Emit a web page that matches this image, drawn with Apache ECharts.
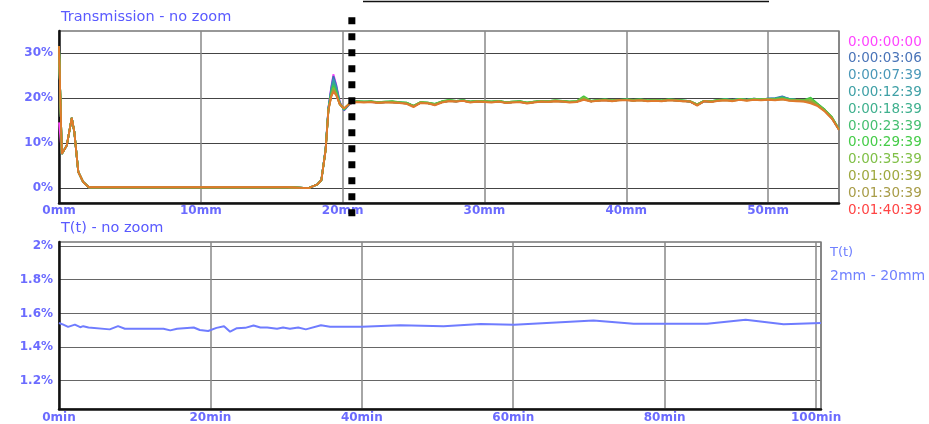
<!DOCTYPE html>
<html>
<head>
<meta charset="utf-8">
<script src="https://cdn.jsdelivr.net/npm/echarts@6/dist/echarts.min.js"></script>
<style>
  html, body { margin: 0; padding: 0; background: #ffffff; }
  #chart { width: 929px; height: 424px; }
</style>
</head>
<body>
<div id="chart"></div>
<script>
// Transmission profiles along the sample (mm) for each acquisition time
const positionsMm = [
  0, 0.2, 0.55, 0.9, 1.08, 1.36, 1.7, 2.1, 16.1, 17.6,
  18.2, 18.5, 18.8, 19.0, 19.2, 19.35, 19.55, 19.8, 20.1, 20.5,
  21, 21.5, 22, 22.5, 23, 23.5, 24, 24.5, 25, 25.5,
  26, 26.5, 27, 27.5, 28, 28.5, 29, 29.5, 30, 30.5,
  31, 31.5, 32, 32.5, 33, 33.5, 34, 34.5, 35, 35.5,
  36, 36.5, 37, 37.5, 38, 38.5, 39, 39.5, 40, 40.5,
  41, 41.5, 42, 42.5, 43, 43.5, 44, 44.5, 45, 45.5,
  46, 46.5, 47, 47.5, 48, 48.5, 49, 49.5, 50, 50.5,
  51, 51.5, 52, 52.5, 53, 53.5, 54, 54.5, 55
];

const run_0_00_00_00 = [
  14.6, 7.6, 9.5, 15.6, 12.5, 3.6, 1.4, 0.2, 0.2, 0.0,
  0.8, 1.8, 8.8, 18.0, 22.6, 25.3, 23.0, 19.2, 17.2, 18.7,
  19.2, 19.1, 19.1, 19.0, 19.1, 19.1, 19.0, 18.8, 18.2, 19.0,
  18.9, 18.5, 19.1, 19.4, 19.3, 19.4, 19.1, 19.3, 19.2, 19.1,
  19.3, 19.0, 19.1, 19.1, 18.9, 19.1, 19.3, 19.2, 19.4, 19.2,
  19.1, 19.2, 19.7, 19.3, 19.5, 19.5, 19.4, 19.6, 19.6, 19.5,
  19.6, 19.4, 19.5, 19.4, 19.6, 19.5, 19.4, 19.2, 18.5, 19.3,
  19.2, 19.5, 19.6, 19.5, 19.7, 19.6, 19.8, 19.7, 19.8, 19.9,
  20.2, 19.7, 19.6, 19.5, 19.7, 18.5, 17.2, 15.5, 13.0
];
const run_0_00_03_06 = [
  31.5, 7.6, 9.5, 15.6, 12.5, 3.6, 1.4, 0.2, 0.2, 0.0,
  0.8, 1.8, 8.7, 17.9, 22.3, 24.9, 22.8, 19.0, 17.3, 18.7,
  19.2, 19.1, 19.2, 19.0, 19.1, 19.1, 19.0, 18.9, 18.2, 19.0,
  18.9, 18.6, 19.1, 19.4, 19.3, 19.5, 19.1, 19.3, 19.2, 19.1,
  19.3, 19.0, 19.1, 19.2, 18.9, 19.1, 19.3, 19.2, 19.4, 19.3,
  19.1, 19.2, 19.8, 19.3, 19.5, 19.6, 19.4, 19.6, 19.6, 19.5,
  19.6, 19.4, 19.5, 19.4, 19.6, 19.5, 19.4, 19.2, 18.5, 19.3,
  19.2, 19.5, 19.7, 19.6, 19.8, 19.6, 19.9, 19.7, 19.9, 20.0,
  20.4, 19.8, 19.6, 19.5, 19.8, 18.6, 17.3, 15.6, 13.0
];
const run_0_00_07_39 = [
  31.5, 7.6, 9.5, 15.6, 12.5, 3.6, 1.4, 0.2, 0.2, 0.0,
  0.8, 1.8, 8.7, 17.8, 21.9, 24.3, 22.4, 18.9, 17.4, 18.8,
  19.2, 19.1, 19.2, 19.0, 19.1, 19.1, 19.0, 18.9, 18.2, 19.0,
  18.9, 18.6, 19.1, 19.4, 19.3, 19.5, 19.1, 19.3, 19.2, 19.1,
  19.3, 19.0, 19.1, 19.2, 18.9, 19.1, 19.3, 19.2, 19.4, 19.3,
  19.1, 19.2, 19.8, 19.3, 19.5, 19.6, 19.4, 19.6, 19.6, 19.5,
  19.6, 19.4, 19.5, 19.4, 19.6, 19.5, 19.4, 19.2, 18.5, 19.3,
  19.2, 19.5, 19.7, 19.6, 19.8, 19.6, 19.9, 19.7, 19.9, 19.9,
  20.2, 19.8, 19.6, 19.5, 19.8, 18.6, 17.3, 15.6, 13.0
];
const run_0_00_12_39 = [
  31.5, 7.6, 9.5, 15.6, 12.5, 3.6, 1.4, 0.2, 0.2, 0.0,
  0.8, 1.8, 8.6, 17.7, 21.6, 23.8, 22.0, 18.8, 17.4, 18.8,
  19.2, 19.1, 19.2, 19.0, 19.1, 19.1, 19.0, 18.9, 18.2, 19.0,
  18.9, 18.6, 19.1, 19.4, 19.3, 19.5, 19.1, 19.3, 19.2, 19.1,
  19.3, 19.0, 19.1, 19.2, 18.9, 19.1, 19.3, 19.2, 19.4, 19.3,
  19.1, 19.2, 19.8, 19.3, 19.5, 19.6, 19.4, 19.6, 19.6, 19.5,
  19.6, 19.4, 19.5, 19.4, 19.6, 19.5, 19.4, 19.2, 18.5, 19.3,
  19.2, 19.5, 19.7, 19.5, 19.8, 19.6, 19.8, 19.7, 19.9, 19.9,
  20.2, 19.8, 19.6, 19.5, 19.8, 18.6, 17.3, 15.6, 13.0
];
const run_0_00_18_39 = [
  31.5, 7.6, 9.5, 15.6, 12.5, 3.6, 1.4, 0.2, 0.2, 0.0,
  0.8, 1.8, 8.6, 17.6, 21.3, 23.3, 21.7, 18.8, 17.5, 18.8,
  19.2, 19.2, 19.2, 19.0, 19.1, 19.2, 19.0, 18.9, 18.2, 19.0,
  18.9, 18.6, 19.2, 19.5, 19.3, 19.5, 19.2, 19.3, 19.2, 19.2,
  19.3, 19.0, 19.1, 19.2, 18.9, 19.1, 19.3, 19.2, 19.4, 19.3,
  19.1, 19.2, 19.9, 19.3, 19.5, 19.6, 19.4, 19.6, 19.6, 19.5,
  19.6, 19.4, 19.5, 19.4, 19.6, 19.5, 19.4, 19.3, 18.5, 19.4,
  19.3, 19.5, 19.7, 19.5, 19.7, 19.6, 19.8, 19.7, 19.8, 19.8,
  20.1, 19.7, 19.6, 19.5, 19.8, 18.6, 17.3, 15.6, 13.0
];
const run_0_00_23_39 = [
  31.5, 7.6, 9.5, 15.6, 12.5, 3.6, 1.4, 0.2, 0.2, 0.0,
  0.8, 1.8, 8.5, 17.6, 21.1, 22.9, 21.4, 18.7, 17.5, 18.9,
  19.3, 19.2, 19.2, 19.1, 19.2, 19.2, 19.1, 19.0, 18.3, 19.1,
  19.0, 18.7, 19.2, 19.5, 19.4, 19.5, 19.2, 19.4, 19.3, 19.2,
  19.4, 19.1, 19.2, 19.3, 19.0, 19.2, 19.4, 19.3, 19.5, 19.4,
  19.2, 19.3, 20.2, 19.4, 19.5, 19.7, 19.5, 19.6, 19.7, 19.6,
  19.7, 19.5, 19.6, 19.5, 19.7, 19.6, 19.5, 19.3, 18.6, 19.4,
  19.3, 19.6, 19.7, 19.5, 19.8, 19.6, 19.8, 19.7, 19.8, 19.8,
  20.0, 19.7, 19.6, 19.5, 19.9, 18.7, 17.4, 15.7, 13.1
];
const run_0_00_29_39 = [
  31.5, 7.6, 9.5, 15.6, 12.5, 3.6, 1.4, 0.2, 0.2, 0.0,
  0.8, 1.8, 8.5, 17.5, 20.9, 22.6, 21.2, 18.7, 17.6, 18.9,
  19.3, 19.2, 19.3, 19.1, 19.2, 19.3, 19.1, 19.0, 18.3, 19.1,
  19.0, 18.7, 19.3, 19.6, 19.4, 19.5, 19.2, 19.4, 19.3, 19.2,
  19.4, 19.1, 19.2, 19.3, 19.0, 19.2, 19.4, 19.3, 19.5, 19.4,
  19.2, 19.3, 20.4, 19.4, 19.6, 19.7, 19.5, 19.6, 19.7, 19.6,
  19.7, 19.5, 19.6, 19.5, 19.7, 19.6, 19.5, 19.3, 18.6, 19.4,
  19.3, 19.6, 19.7, 19.5, 19.8, 19.6, 19.8, 19.7, 19.8, 19.8,
  20.0, 19.7, 19.6, 19.5, 20.1, 18.7, 17.4, 15.8, 13.1
];
const run_0_00_35_39 = [
  31.5, 7.6, 9.5, 15.6, 12.5, 3.6, 1.4, 0.2, 0.2, 0.0,
  0.8, 1.8, 8.5, 17.5, 20.7, 22.3, 21.0, 18.6, 17.6, 18.9,
  19.2, 19.2, 19.2, 19.1, 19.1, 19.2, 19.0, 18.9, 18.3, 19.1,
  19.0, 18.6, 19.2, 19.5, 19.4, 19.5, 19.2, 19.3, 19.3, 19.2,
  19.3, 19.1, 19.2, 19.2, 19.0, 19.2, 19.3, 19.3, 19.5, 19.3,
  19.2, 19.3, 20.1, 19.4, 19.5, 19.6, 19.5, 19.6, 19.6, 19.5,
  19.6, 19.5, 19.5, 19.5, 19.6, 19.6, 19.4, 19.3, 18.6, 19.4,
  19.3, 19.5, 19.6, 19.5, 19.7, 19.6, 19.7, 19.7, 19.8, 19.7,
  19.9, 19.6, 19.6, 19.5, 19.7, 18.5, 17.3, 15.7, 13.1
];
const run_0_01_00_39 = [
  31.5, 7.6, 9.5, 15.6, 12.5, 3.6, 1.4, 0.2, 0.2, 0.0,
  0.8, 1.8, 8.4, 17.4, 20.6, 22.0, 20.9, 18.6, 17.7, 18.8,
  19.2, 19.1, 19.2, 19.0, 19.1, 19.1, 19.0, 18.8, 18.2, 19.0,
  18.9, 18.6, 19.1, 19.4, 19.3, 19.4, 19.1, 19.3, 19.2, 19.1,
  19.3, 19.0, 19.1, 19.2, 18.9, 19.1, 19.3, 19.2, 19.4, 19.3,
  19.1, 19.2, 19.8, 19.3, 19.5, 19.6, 19.4, 19.6, 19.6, 19.5,
  19.6, 19.4, 19.5, 19.4, 19.6, 19.5, 19.4, 19.3, 18.5, 19.4,
  19.2, 19.5, 19.6, 19.4, 19.7, 19.5, 19.7, 19.6, 19.7, 19.6,
  19.8, 19.5, 19.5, 19.4, 19.3, 18.4, 17.2, 15.5, 13.0
];
const run_0_01_30_39 = [
  31.5, 7.6, 9.5, 15.6, 12.5, 3.6, 1.4, 0.2, 0.2, 0.0,
  0.8, 1.8, 8.4, 17.4, 20.4, 21.7, 20.7, 18.6, 17.7, 18.8,
  19.2, 19.1, 19.1, 19.0, 19.1, 19.0, 19.0, 18.8, 18.2, 19.0,
  18.9, 18.5, 19.1, 19.3, 19.3, 19.4, 19.1, 19.2, 19.2, 19.1,
  19.2, 19.0, 19.1, 19.1, 18.9, 19.1, 19.2, 19.2, 19.3, 19.2,
  19.1, 19.2, 19.7, 19.3, 19.4, 19.5, 19.4, 19.5, 19.6, 19.4,
  19.5, 19.4, 19.4, 19.4, 19.5, 19.5, 19.3, 19.3, 18.5, 19.3,
  19.2, 19.4, 19.5, 19.4, 19.6, 19.5, 19.6, 19.6, 19.7, 19.6,
  19.7, 19.5, 19.4, 19.3, 19.1, 18.3, 17.1, 15.5, 13.0
];
const run_0_01_40_39 = [
  31.5, 7.6, 9.5, 15.6, 12.5, 3.6, 1.4, 0.2, 0.2, 0.0,
  0.8, 1.8, 8.4, 17.3, 20.3, 21.4, 20.6, 18.6, 17.7, 18.8,
  19.1, 19.0, 19.1, 18.9, 19.0, 19.0, 18.9, 18.7, 18.0, 18.9,
  18.8, 18.4, 19.0, 19.3, 19.2, 19.4, 19.0, 19.2, 19.1, 19.0,
  19.2, 18.9, 19.0, 19.1, 18.8, 19.0, 19.2, 19.1, 19.3, 19.2,
  19.0, 19.1, 19.6, 19.2, 19.4, 19.5, 19.3, 19.5, 19.5, 19.4,
  19.5, 19.3, 19.4, 19.3, 19.5, 19.4, 19.3, 19.2, 18.3, 19.3,
  19.1, 19.4, 19.5, 19.3, 19.6, 19.4, 19.6, 19.5, 19.6, 19.5,
  19.7, 19.4, 19.3, 19.2, 18.8, 18.2, 17.0, 15.4, 12.9
];

const runLabels = [
  '0:00:00:00', '0:00:03:06', '0:00:07:39', '0:00:12:39', '0:00:18:39', '0:00:23:39',
  '0:00:29:39', '0:00:35:39', '0:01:00:39', '0:01:30:39', '0:01:40:39'
];
const runValues = [
  run_0_00_00_00, run_0_00_03_06, run_0_00_07_39, run_0_00_12_39, run_0_00_18_39, run_0_00_23_39,
  run_0_00_29_39, run_0_00_35_39, run_0_01_00_39, run_0_01_30_39, run_0_01_40_39
];
const labelColors = [
  '#ff44ff', '#4a74b8', '#4a98b8', '#3fa0a6', '#3fb08e', '#45bf70',
  '#45cc48', '#80c048', '#9ea83e', '#a89c48', '#ff4444'
];
const lineColors = [
  '#ff44ff', '#3d6cb6', '#3c92b6', '#35a0a0', '#34ad86', '#3bbd68',
  '#3fc844', '#7cbe3c', '#9aa636', '#b0903c', '#e07a2c'
];

// Mean transmission over 2mm - 20mm versus elapsed time
const timesMin = [
  0, 0.57, 1.2, 2.1, 2.8, 3.2, 3.9, 6.7, 7.8, 8.7,
  13.8, 14.7, 15.6, 17.8, 18.6, 19.7, 20.8, 21.8, 22.6, 23.5,
  24.6, 25.7, 26.6, 27.5, 28.8, 29.6, 30.5, 31.6, 32.6, 34.6,
  35.8, 40.0, 45.1, 50.8, 55.7, 60.1, 70.6, 75.9, 85.6, 90.7,
  95.7, 100.65
];
const tValues = [
  1.543, 1.533, 1.520, 1.533, 1.518, 1.524, 1.516, 1.505, 1.524, 1.509,
  1.509, 1.499, 1.509, 1.516, 1.501, 1.495, 1.514, 1.524, 1.491, 1.512,
  1.514, 1.528, 1.516, 1.516, 1.509, 1.516, 1.509, 1.516, 1.505, 1.529,
  1.520, 1.520, 1.529, 1.524, 1.537, 1.533, 1.558, 1.539, 1.539, 1.562,
  1.535, 1.543
];

const topPctTicks = [0, 10, 20, 30];
const bottomPctTicks = [1.2, 1.4, 1.6, 1.8, 2.0];
const cursorMm = 20.65;

const FONT = 'DejaVu Sans';
const AXIS_TEXT = '#6b6bff';

const chart = echarts.init(document.getElementById('chart'), null, { renderer: 'canvas' });

const topSeries = runLabels.map((name, i) => ({
  name: name,
  type: 'line',
  xAxisIndex: 0,
  yAxisIndex: 0,
  showSymbol: false,
  symbol: 'none',
  silent: true,
  lineStyle: { color: lineColors[i], width: 1.8 },
  itemStyle: { color: lineColors[i] },
  data: positionsMm.map((x, k) => [x, runValues[i][k]])
}));

const option = {
  animation: false,
  backgroundColor: '#ffffff',
  title: [
    { text: 'Transmission - no zoom', left: 61, top: 10, padding: 0,
      textStyle: { fontFamily: FONT, fontSize: 14.5, fontWeight: 'normal', color: '#5a5aff' } },
    { text: 'T(t) - no zoom', left: 61, top: 221, padding: 0,
      textStyle: { fontFamily: FONT, fontSize: 14.5, fontWeight: 'normal', color: '#5a5aff' } }
  ],
  legend: [
    {
      orient: 'vertical', left: 843, top: 35, padding: 0,
      itemWidth: 0, itemHeight: 0, itemGap: 2.8, selectedMode: false,
      icon: 'rect',
      textStyle: { fontFamily: FONT, fontSize: 13.5, lineHeight: 14 },
      data: runLabels.map((n, i) => ({ name: n, textStyle: { color: labelColors[i] } }))
    },
    {
      orient: 'vertical', left: 825, top: 246, padding: 0,
      itemWidth: 0, itemHeight: 0, selectedMode: false, icon: 'rect',
      data: ['T(t)'],
      formatter: () => '{a|T(t)}\n{b|2mm - 20mm}',
      textStyle: {
        fontFamily: FONT, color: '#7080ff',
        rich: {
          a: { fontFamily: FONT, fontSize: 13, lineHeight: 24, color: '#7080ff' },
          b: { fontFamily: FONT, fontSize: 14, lineHeight: 24, color: '#7080ff' }
        }
      }
    }
  ],
  grid: [
    { left: 59, top: 31, width: 780, height: 172, show: true, borderColor: '#333', borderWidth: 1.2 },
    { left: 59, top: 242, width: 762, height: 171, show: true, borderColor: '#333', borderWidth: 1.2 }
  ],
  xAxis: [
    {
      gridIndex: 0, type: 'value', min: 0, max: 55, interval: 10,
      axisLine: { show: true, onZero: false, lineStyle: { color: '#111', width: 2.5 } },
      axisTick: { show: false },
      axisLabel: { showMaxLabel: false, formatter: v => v + 'mm', color: AXIS_TEXT,
        fontFamily: FONT, fontSize: 12, fontWeight: 'bold', margin: 2 },
      splitLine: { show: true, lineStyle: { color: '#888', width: 1.5 } }
    },
    {
      gridIndex: 1, type: 'value', min: 0, max: 100.65, interval: 20,
      axisLine: { show: true, onZero: false, lineStyle: { color: '#111', width: 2.5 } },
      axisTick: { show: false },
      axisLabel: { showMaxLabel: false, formatter: v => v + 'min', color: AXIS_TEXT,
        fontFamily: FONT, fontSize: 12, fontWeight: 'bold', margin: 3 },
      splitLine: { show: true, lineStyle: { color: '#888', width: 1.5 } }
    }
  ],
  yAxis: [
    {
      gridIndex: 0, type: 'value', min: -3.3, max: 34.9,
      axisLine: { show: true, lineStyle: { color: '#111', width: 2.5 } },
      axisTick: { show: false, customValues: topPctTicks },
      axisLabel: { customValues: topPctTicks, formatter: v => v + '%', color: AXIS_TEXT,
        fontFamily: FONT, fontSize: 12, fontWeight: 'bold', margin: 6 },
      splitLine: { show: true, lineStyle: { color: '#444', width: 1 } }
    },
    {
      gridIndex: 1, type: 'value', min: 1.032, max: 2.024,
      axisLine: { show: true, lineStyle: { color: '#111', width: 2.5 } },
      axisTick: { show: false, customValues: bottomPctTicks },
      axisLabel: { customValues: bottomPctTicks, formatter: v => (Math.round(v * 10) / 10) + '%',
        color: AXIS_TEXT, fontFamily: FONT, fontSize: 12, fontWeight: 'bold', margin: 6 },
      splitLine: { show: true, lineStyle: { color: '#666', width: 1.2 } }
    }
  ],
  series: topSeries.concat([
    {
      name: 'T(t)', type: 'line', xAxisIndex: 1, yAxisIndex: 1,
      showSymbol: false, symbol: 'none', silent: true,
      lineStyle: { color: '#6f7cff', width: 2 },
      itemStyle: { color: '#6f7cff' },
      data: timesMin.map((t, k) => [t, tValues[k]])
    }
  ])
};

chart.setOption(option);

// Position cursor, drawn as a dotted bar across the profile plot
const cursorX = chart.convertToPixel({ gridIndex: 0 }, [cursorMm, 0])[0];
chart.setOption({
  graphic: [
    {
      type: 'line', z: 100,
      shape: { x1: cursorX, y1: 17.3, x2: cursorX, y2: 218.5 },
      style: { stroke: '#000', lineWidth: 7, lineDash: [7, 9], lineCap: 'butt' }
    },
    {
      type: 'line', z: 100,
      shape: { x1: 363, y1: 1.5, x2: 769, y2: 1.5 },
      style: { stroke: '#111', lineWidth: 1.5 }
    }
  ]
});
</script>
</body>
</html>
